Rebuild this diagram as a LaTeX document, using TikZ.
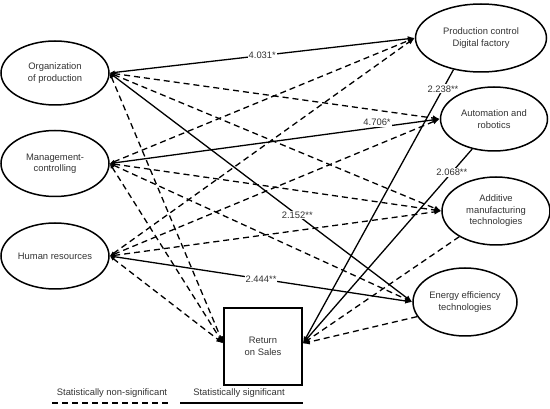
\documentclass[tikz,border=0pt]{standalone}
\usepackage{fontspec}
\setmainfont{Liberation Sans}
\usetikzlibrary{positioning,shapes,arrows,arrows.meta}

\begin{document}
\begin{tikzpicture}[
	x=1pt,y=-1pt,
	font=\fontsize{9.4}{11.5}\selectfont,
	factor/.style={draw,ellipse,line width=1.5pt,inner sep=0pt,align=center,text=black!80},
	outcome/.style={draw,rectangle,line width=1.6pt,minimum width=78pt,minimum height=77pt,align=center,text=black!80},
	sig/.style={line width=1.3pt,{Latex[length=5pt,width=4pt]}-{Latex[length=7pt,width=5.5pt]}},
	nonsig/.style={sig,dash pattern=on 6pt off 4pt},
	toros/.style={-{Latex[length=7pt,width=5.5pt]}},
	coef/.style={fill=white,inner sep=1pt,text=black!80}
	]
	\useasboundingbox (0,0) rectangle (550,409);
	\node[factor,minimum width=108pt,minimum height=64pt] (organization) at (55,73) {Organization\\of production};
	\node[factor,minimum width=108pt,minimum height=66pt,below=24pt of organization] (management) {Management-\\controlling};
	\node[factor,minimum width=108pt,minimum height=66pt,below=25pt of management] (humanres) {Human resources};
	\node[factor,minimum width=131pt,minimum height=68pt] (prodcontrol) at (481,38) {Production control\\Digital factory};
	\node[factor,minimum width=107pt,minimum height=64pt] (automation) at (494,119) {Automation and\\robotics};
	\node[factor,minimum width=108pt,minimum height=68pt] (additive) at (496,211) {Additive\\manufacturing\\technologies};
	\node[factor,minimum width=104pt,minimum height=68pt] (energy) at (465,302) {Energy efficiency\\technologies};
	\node[outcome] (ros) at (263,346.5) {Return\\on Sales};
	% non-significant paths
	\path[nonsig]
		(organization.east) edge (automation.west)
		(organization.east) edge (additive.west)
		(organization.east) edge ([yshift=3pt]ros.west)
		(management.east) edge (prodcontrol.west)
		(management.east) edge (additive.west)
		(management.east) edge (energy.west)
		(management.east) edge ([yshift=3pt]ros.west)
		(humanres.east) edge (prodcontrol.west)
		(humanres.east) edge (automation.west)
		(humanres.east) edge (additive.west)
		(humanres.east) edge ([yshift=3pt]ros.west);
	\path[nonsig,toros]
		(additive.215) edge ([yshift=3pt]ros.east)
		(energy.197) edge ([yshift=3pt]ros.east);
	% significant paths
	\path[sig]
		(organization.east) edge node[coef,pos=0.5] {4.031*} (prodcontrol.west)
		(management.east) edge node[coef,pos=0.81,above] {4.706*} (automation.west)
		(organization.east) edge node[coef,pos=0.62] {2.152**} (energy.west)
		(humanres.east) edge node[coef,pos=0.5] {2.444**} (energy.west);
	\path[sig,toros]
		(prodcontrol.229) edge node[coef,pos=0.07] {2.238**} ([yshift=3pt]ros.east)
		(automation.234) edge node[coef,pos=0.12] {2.068**} ([yshift=3pt]ros.east);
	% legend
	\node[text=black!80] (legnonsig) at (112,393) {Statistically non-significant};
	\node[text=black!80] (legsig) at (239,393) {Statistically significant};
	\draw[line width=1.3pt,dash pattern=on 6pt off 4pt] (52,403) -- (170,403);
	\draw[line width=1.3pt] (180,403) -- (303,403);
\end{tikzpicture}
\end{document}
